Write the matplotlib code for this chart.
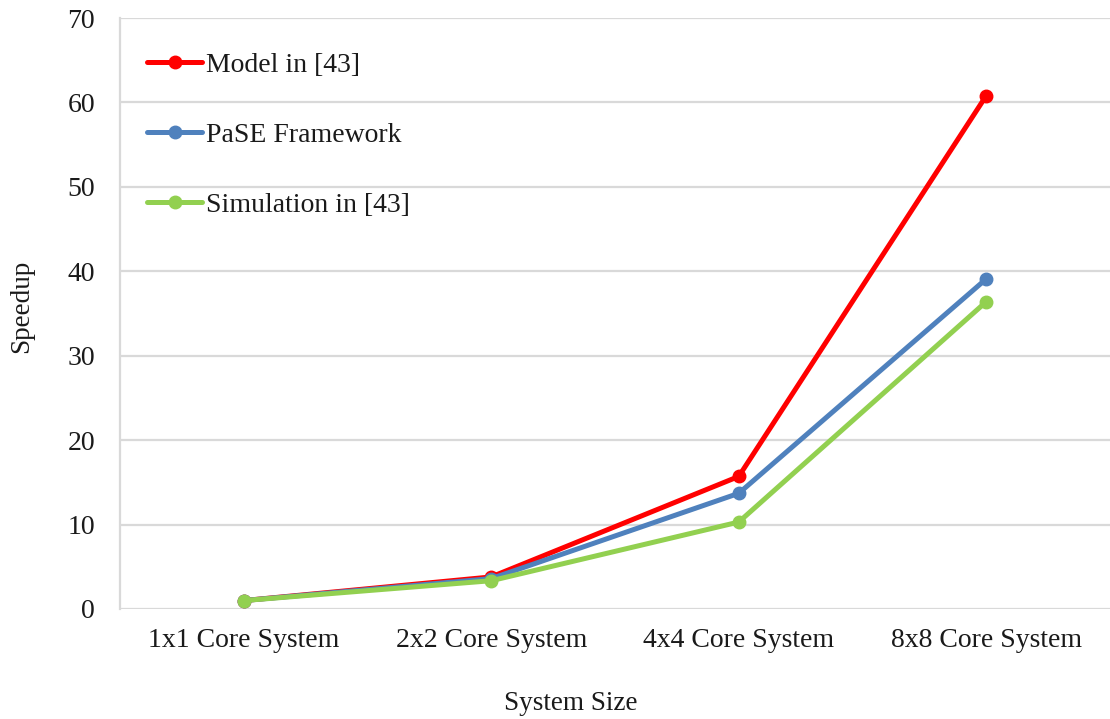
"""Speedup vs system size: Model in [43], PaSE, simulation."""
import matplotlib
matplotlib.use("Agg")
import matplotlib.pyplot as plt
import numpy as np

CATEGORIES = ["1x1 Core System", "2x2 Core System",
              "4x4 Core System", "8x8 Core System"]
MODEL = [1.0, 3.8, 15.7, 60.8]
PASE = [1.0, 3.6, 13.7, 39.1]
SIMULATION = [1.0, 3.35, 10.3, 36.4]
SERIES = [("Model in [43]", MODEL, "#ff0000"),
          ("PaSE Framework", PASE, "#4f81bd"),
          ("Simulation in [43]", SIMULATION, "#92d050")]

plt.rcParams["font.family"] = ["Liberation Serif", "DejaVu Serif"]
FS = 20
TXT = "#1a1a1a"

fig = plt.figure(figsize=(11.1, 7.19), dpi=100)
ax = fig.add_axes([120 / 1110, 110 / 719, 990 / 1110, 591 / 719])

x = np.arange(len(CATEGORIES))
for label, vals, colour in SERIES:
    ax.plot(x, vals, "o-", color=colour, linewidth=3.6, markersize=9,
            label=label, solid_capstyle="round")

ax.set_xlim(-0.5, 3.5)
ax.set_ylim(0, 70)
ax.set_yticks(np.arange(0, 71, 10))
ax.set_xticks(x)
ax.set_xticklabels(CATEGORIES)
ax.tick_params(length=0, labelsize=FS, colors=TXT)
ax.tick_params(axis="y", pad=18)
ax.tick_params(axis="x", pad=14)
ax.grid(True, axis="y", color="#d9d9d9", linewidth=1.6)
ax.set_axisbelow(True)
for side in ["top", "right", "bottom"]:
    ax.spines[side].set_visible(False)
ax.spines["left"].set_color("#d9d9d9")
ax.spines["left"].set_linewidth(1.6)

fig.text(22 / 1110, 1 - 306 / 719, "Speedup", rotation=90, fontsize=19.5,
         color=TXT, ha="center", va="center")
fig.text(571 / 1110, 1 - 703 / 719, "System Size", fontsize=19.5,
         color=TXT, ha="center", va="center")

leg = ax.legend(loc="upper left", bbox_to_anchor=(0.027, 0.9415),
                frameon=False, fontsize=FS, handlelength=2.0,
                handletextpad=0.15, labelspacing=1.6, borderpad=0,
                borderaxespad=0)
for t in leg.get_texts():
    t.set_color(TXT)

fig.savefig("out.png", dpi=100)
